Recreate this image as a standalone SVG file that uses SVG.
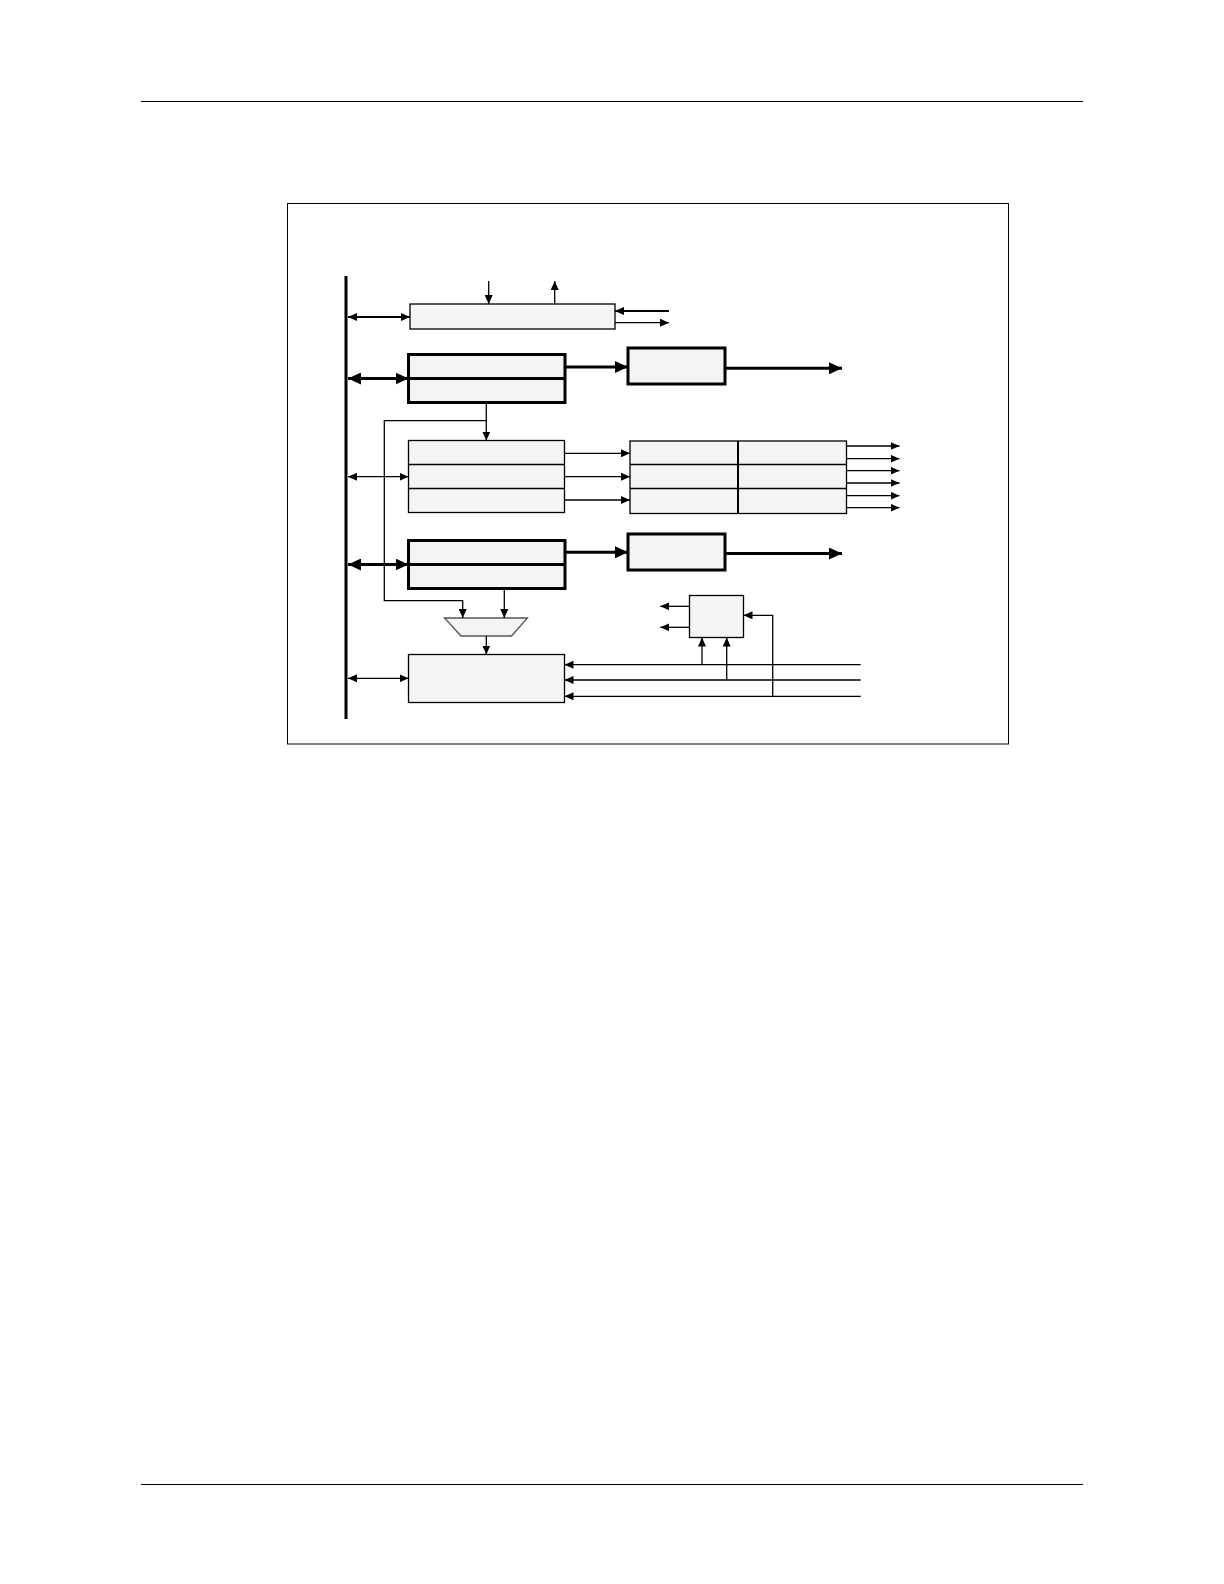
<svg xmlns="http://www.w3.org/2000/svg" width="1224" height="1584" viewBox="0 0 1224 1584">
<style>
.box{fill:#f4f4f4;stroke:#000;stroke-width:1.3}
.tbox{fill:#f4f4f4;stroke:#000;stroke-width:3}
.ln{fill:none;stroke:#000;stroke-width:1.3}
.tl{fill:none;stroke:#000;stroke-width:3}
.ml{fill:none;stroke:#000;stroke-width:2}
</style>
<defs>
<marker id="a" markerUnits="userSpaceOnUse" markerWidth="9" markerHeight="8" refX="9" refY="4" orient="auto-start-reverse"><path d="M0,0 L9,4 L0,8 z" fill="#000"/></marker>
<marker id="b" markerUnits="userSpaceOnUse" markerWidth="13" markerHeight="12" refX="13" refY="6" orient="auto-start-reverse"><path d="M0,0 L13,6 L0,12 z" fill="#000"/></marker>
</defs>
<rect width="1224" height="1584" fill="#fff"/>
<line x1="141" y1="101.5" x2="1083" y2="101.5" stroke="#000" stroke-width="1"/>
<line x1="141" y1="1484.5" x2="1083" y2="1484.5" stroke="#000" stroke-width="1"/>
<rect x="287.5" y="203.5" width="721" height="540.5" fill="none" stroke="#000" stroke-width="1"/>
<g id="bus"><line x1="346" y1="276" x2="346" y2="719" stroke="#000" stroke-width="3"/></g>
<g id="n1"><rect class="box" x="410" y="304" width="205" height="25"/></g>
<g id="n2"><rect class="tbox" x="408.5" y="354.5" width="156.5" height="48"/><line class="tl" x1="408.5" y1="378.5" x2="565" y2="378.5"/></g>
<g id="n3"><rect class="tbox" x="628" y="348" width="97" height="36"/></g>
<g id="n4"><rect class="box" x="408.5" y="440.5" width="156" height="72"/><line class="ln" x1="408.5" y1="464.5" x2="564.5" y2="464.5"/><line class="ln" x1="408.5" y1="488.5" x2="564.5" y2="488.5"/></g>
<g id="n5"><rect class="box" x="630" y="441" width="216.5" height="72.5"/><line class="ln" x1="630" y1="464.5" x2="846.5" y2="464.5"/><line class="ln" x1="630" y1="488.5" x2="846.5" y2="488.5"/><line class="ml" x1="738" y1="441" x2="738" y2="513.5"/></g>
<g id="n6"><rect class="tbox" x="408.5" y="540.5" width="156.5" height="48"/><line class="tl" x1="408.5" y1="564.5" x2="565" y2="564.5"/></g>
<g id="n7"><rect class="tbox" x="628" y="534" width="97" height="36"/></g>
<g id="n8"><path d="M444.5,618 L527.5,618 L511.5,636 L461,636 z" fill="#f4f4f4" stroke="#555" stroke-width="1.3"/></g>
<g id="n9"><rect class="box" x="408.5" y="654.5" width="156" height="48"/></g>
<g id="n10"><rect class="box" x="689.5" y="595.5" width="54" height="42"/></g>
<g id="connectors">
<line class="ln" x1="488.7" y1="281" x2="488.7" y2="304" marker-end="url(#a)"/>
<line class="ln" x1="554.7" y1="304" x2="554.7" y2="281" marker-end="url(#a)"/>
<line class="ml" x1="669" y1="311" x2="615" y2="311" marker-end="url(#a)"/>
<line class="ln" x1="615" y1="322.7" x2="669" y2="322.7" marker-end="url(#a)"/>
<line class="ml" x1="348" y1="317" x2="410" y2="317" marker-start="url(#a)" marker-end="url(#a)"/>
<line class="tl" x1="348" y1="378.5" x2="408.5" y2="378.5" marker-start="url(#b)" marker-end="url(#b)"/>
<line class="tl" x1="565" y1="367" x2="628" y2="367" marker-end="url(#b)"/>
<line class="tl" x1="725" y1="368.3" x2="842" y2="368.3" marker-end="url(#b)"/>
<line class="ln" x1="486.3" y1="402.5" x2="486.3" y2="440.5" marker-end="url(#a)"/>
<polyline class="ln" points="486.3,420.7 384.3,420.7 384.3,600.7 462.7,600.7 462.7,618" marker-end="url(#a)"/>
<line class="ln" x1="348" y1="476.7" x2="408.5" y2="476.7" marker-start="url(#a)" marker-end="url(#a)"/>
<line class="ln" x1="564.5" y1="453.3" x2="630" y2="453.3" marker-end="url(#a)"/>
<line class="ln" x1="564.5" y1="476.7" x2="630" y2="476.7" marker-end="url(#a)"/>
<line class="ln" x1="564.5" y1="500" x2="630" y2="500" marker-end="url(#a)"/>
<line class="ln" x1="846.5" y1="446" x2="899.5" y2="446" marker-end="url(#a)"/>
<line class="ln" x1="846.5" y1="458.7" x2="899.5" y2="458.7" marker-end="url(#a)"/>
<line class="ln" x1="846.5" y1="470.7" x2="899.5" y2="470.7" marker-end="url(#a)"/>
<line class="ln" x1="846.5" y1="483" x2="899.5" y2="483" marker-end="url(#a)"/>
<line class="ln" x1="846.5" y1="495.7" x2="899.5" y2="495.7" marker-end="url(#a)"/>
<line class="ln" x1="846.5" y1="507.7" x2="899.5" y2="507.7" marker-end="url(#a)"/>
<line class="tl" x1="348" y1="564.5" x2="408.5" y2="564.5" marker-start="url(#b)" marker-end="url(#b)"/>
<line class="tl" x1="565" y1="552.3" x2="628" y2="552.3" marker-end="url(#b)"/>
<line class="tl" x1="725" y1="553.5" x2="842" y2="553.5" marker-end="url(#b)"/>
<line class="ln" x1="504.3" y1="588.7" x2="504.3" y2="618" marker-end="url(#a)"/>
<line class="ln" x1="486.3" y1="636" x2="486.3" y2="654.5" marker-end="url(#a)"/>
<line class="ln" x1="348" y1="678.3" x2="408.5" y2="678.3" marker-start="url(#a)" marker-end="url(#a)"/>
<line class="ln" x1="860.7" y1="664.7" x2="564.5" y2="664.7" marker-end="url(#a)"/>
<line class="ln" x1="860.7" y1="680" x2="564.5" y2="680" marker-end="url(#a)"/>
<line class="ln" x1="860.7" y1="696.3" x2="564.5" y2="696.3" marker-end="url(#a)"/>
<line class="ln" x1="702" y1="664.7" x2="702" y2="637.5" marker-end="url(#a)"/>
<line class="ln" x1="726.7" y1="680" x2="726.7" y2="637.5" marker-end="url(#a)"/>
<polyline class="ln" points="772.7,696.3 772.7,615.3 743.5,615.3" marker-end="url(#a)"/>
<line class="ln" x1="689.5" y1="606.3" x2="660.3" y2="606.3" marker-end="url(#a)"/>
<line class="ln" x1="689.5" y1="627.3" x2="660.3" y2="627.3" marker-end="url(#a)"/>
</g>
</svg>
